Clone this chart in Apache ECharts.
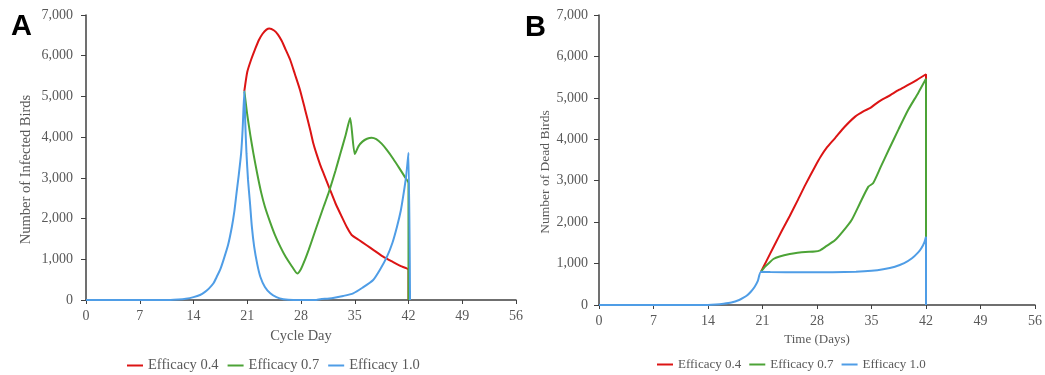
<!DOCTYPE html>
<html>
<head>
<meta charset="utf-8">
<script src="https://cdn.jsdelivr.net/npm/echarts@6/dist/echarts.min.js"></script>
<style>
  html, body { margin: 0; padding: 0; background: #fff; }
  #chart { width: 1045px; height: 375px; }
</style>
</head>
<body>
<div id="chart"></div>
<script>
// x ticks (days) and y ticks (birds)
const dayTicks = [0, 7, 14, 21, 28, 35, 42, 49, 56];
const birdTicks = [0, 1000, 2000, 3000, 4000, 5000, 6000, 7000];
const seriesNames = ['Efficacy 0.4', 'Efficacy 0.7', 'Efficacy 1.0'];

// Panel A: infected birds
const infDays04 = [20.62, 21.0, 21.5, 22.0, 22.5, 23.0, 23.5, 23.87, 24.5, 25.0, 25.5, 26.0, 26.6, 27.2, 27.87, 28.5, 29.2, 29.6, 30.0, 30.5, 31.0, 31.8, 32.5, 33.3, 34.0, 34.6, 35.5, 36.5, 37.5, 38.7, 40.0, 41.0, 42.0, 42.0];
const infVals04 = [5130, 5600, 5900, 6150, 6380, 6540, 6640, 6670, 6620, 6520, 6360, 6150, 5895, 5550, 5158, 4700, 4175, 3850, 3600, 3320, 3080, 2700, 2370, 2050, 1780, 1597, 1480, 1350, 1220, 1064, 930, 830, 737, 0];

const infDays07 = [20.62, 21.0, 21.4, 21.8, 22.3, 22.8, 23.3, 24.0, 24.6, 25.3, 26.0, 26.8, 27.52, 28.0, 28.5, 29.0, 29.6, 30.0, 30.5, 31.0, 31.5, 31.8, 32.5, 33.1, 33.8, 34.4, 35.0, 35.5, 36.0, 36.6, 37.2, 37.8, 38.5, 39.2, 40.0, 40.8, 41.5, 42.0, 42.0];
const infVals07 = [5130, 4550, 4050, 3600, 3100, 2650, 2290, 1900, 1600, 1310, 1060, 830, 650, 760, 980, 1230, 1560, 1780, 2050, 2320, 2580, 2750, 3180, 3580, 4040, 4470, 3585, 3780, 3890, 3960, 3985, 3950, 3840, 3680, 3470, 3240, 3030, 2866, 0];

const infDays10 = [0, 11, 12, 13, 14, 14.85, 15.5, 16, 16.6, 17, 17.5, 17.9, 18.5, 19, 19.3, 19.6, 19.9, 20.2, 20.4, 20.62, 20.75, 20.9, 21.1, 21.36, 21.6, 21.9, 22.3, 22.7, 23.3, 24.0, 24.8, 25.7, 27, 30, 30.5, 32, 33.5, 34.8, 36, 37.4, 38.3, 39.2, 39.9, 40.5, 41.0, 41.3, 41.7, 42.0, 42.2];
const infVals10 = [0, 0, 10, 30, 70, 123, 200, 280, 410, 560, 760, 980, 1350, 1800, 2150, 2620, 3080, 3600, 4200, 5130, 4300, 3600, 2950, 2375, 1800, 1310, 880, 572, 320, 164, 70, 20, 0, 0, 17, 45, 100, 164, 300, 491, 750, 1064, 1400, 1800, 2200, 2537, 3050, 3618, 0];

// Panel B: dead birds
const deadDays04 = [20.8, 21.5, 22.5, 23.5, 24.5, 25.5, 26.5, 27.74, 28.5, 29.3, 30.3, 31.5, 32.9, 34.0, 34.8, 35.5, 36.3, 37.2, 38.5, 39.7, 40.8, 42.0, 42.0];
const deadVals04 = [800, 1060, 1430, 1800, 2150, 2520, 2900, 3339, 3590, 3810, 4024, 4290, 4547, 4680, 4750, 4850, 4950, 5040, 5190, 5311, 5430, 5570, 0];

const deadDays07 = [20.8, 21.3, 21.8, 22.4, 23.2, 24.5, 25.5, 26.5, 27.7, 28.4, 29.2, 30.3, 31.3, 32.45, 33.5, 34.6, 35.2, 36.2, 37.2, 38.5, 39.7, 41.0, 42.0, 42.0];
const deadVals07 = [800, 920, 1010, 1110, 1170, 1230, 1260, 1280, 1290, 1320, 1420, 1560, 1770, 2052, 2450, 2857, 2937, 3340, 3742, 4250, 4707, 5120, 5460, 0];

const deadDays10 = [0, 14, 15, 16, 17, 18, 18.5, 19, 19.5, 20, 20.4, 20.8, 22, 26, 30, 33, 35, 36.5, 38, 39.2, 40.2, 41, 41.4, 41.8, 42.0, 42.0];
const deadVals10 = [0, 0, 10, 30, 60, 120, 170, 230, 320, 440, 580, 800, 795, 790, 792, 805, 828, 865, 925, 1010, 1127, 1270, 1368, 1520, 1650, 0];

const colors = ['#dc1414', '#4ca336', '#4f9de6'];
const serif = 'Liberation Serif, Times New Roman, serif';
const textGrey = '#595959';

function zip(days, vals) {
  return days.map((d, i) => [d, vals[i]]);
}

function xAxisFor(gridIndex, name, gap, size) {
  return {
    type: 'value', gridIndex, min: dayTicks[0], max: dayTicks[dayTicks.length - 1], interval: 7,
    name, nameLocation: 'middle', nameGap: gap,
    nameTextStyle: { color: textGrey, fontFamily: serif, fontSize: size },
    axisLine: { onZero: false, lineStyle: { color: '#404040', width: 1.5 } },
    axisTick: { show: true, inside: false, length: 4, lineStyle: { color: '#404040' } },
    axisLabel: { color: textGrey, fontFamily: serif, fontSize: 14, margin: 9 },
    splitLine: { show: false }
  };
}

function yAxisFor(gridIndex, name, gap, size, margin) {
  return {
    type: 'value', gridIndex, min: birdTicks[0], max: birdTicks[birdTicks.length - 1], interval: 1000,
    name, nameLocation: 'middle', nameGap: gap,
    nameTextStyle: { color: textGrey, fontFamily: serif, fontSize: size, padding: [0, 24, 0, 0] },
    axisLine: { show: true, lineStyle: { color: '#404040', width: 1.5 } },
    axisTick: { show: true, inside: false, length: 5, lineStyle: { color: '#404040' } },
    axisLabel: {
      color: textGrey, fontFamily: serif, fontSize: 14, margin,
      formatter: v => v.toLocaleString('en-US')
    },
    splitLine: { show: false }
  };
}

function lineSeries(name, idx, axisIndex, data) {
  return {
    name, type: 'line', xAxisIndex: axisIndex, yAxisIndex: axisIndex,
    data, symbol: 'none', smooth: 0.2, animation: false,
    lineStyle: { color: colors[idx], width: 2 }, itemStyle: { color: colors[idx] }
  };
}

const chart = echarts.init(document.getElementById('chart'), null, { renderer: 'canvas' });
chart.setOption({
  backgroundColor: '#fff',
  animation: false,
  title: [
    { text: 'A', left: 6, top: 7, textStyle: { fontFamily: 'Liberation Sans, Arial', fontWeight: 'bold', fontSize: 29, color: '#000' } },
    { text: 'B', left: 520, top: 8, textStyle: { fontFamily: 'Liberation Sans, Arial', fontWeight: 'bold', fontSize: 29, color: '#000' } }
  ],
  grid: [
    { left: 86, top: 15, width: 430, height: 285 },
    { left: 599, top: 15, width: 436, height: 290 }
  ],
  legend: [
    {
      data: seriesNames, left: 122, top: 353, icon: 'rect', itemWidth: 16, itemHeight: 2, itemGap: 9,
      textStyle: { color: textGrey, fontFamily: serif, fontSize: 14.5 }
    },
    {
      data: seriesNames.map(n => n), left: 652, top: 353, icon: 'rect', itemWidth: 16, itemHeight: 2, itemGap: 8,
      textStyle: { color: textGrey, fontFamily: serif, fontSize: 13 }
    }
  ],
  xAxis: [xAxisFor(0, 'Cycle Day', 29, 14.5), xAxisFor(1, 'Time (Days)', 27, 13)],
  yAxis: [yAxisFor(0, 'Number of Infected Birds', 52, 14.5, 13), yAxisFor(1, 'Number of Dead Birds', 47, 13.5, 11)],
  series: [
    lineSeries(seriesNames[0], 0, 0, zip(infDays04, infVals04)),
    lineSeries(seriesNames[1], 1, 0, zip(infDays07, infVals07)),
    lineSeries(seriesNames[2], 2, 0, zip(infDays10, infVals10)),
    lineSeries(seriesNames[0], 0, 1, zip(deadDays04, deadVals04)),
    lineSeries(seriesNames[1], 1, 1, zip(deadDays07, deadVals07)),
    lineSeries(seriesNames[2], 2, 1, zip(deadDays10, deadVals10))
  ]
});
</script>
</body>
</html>
